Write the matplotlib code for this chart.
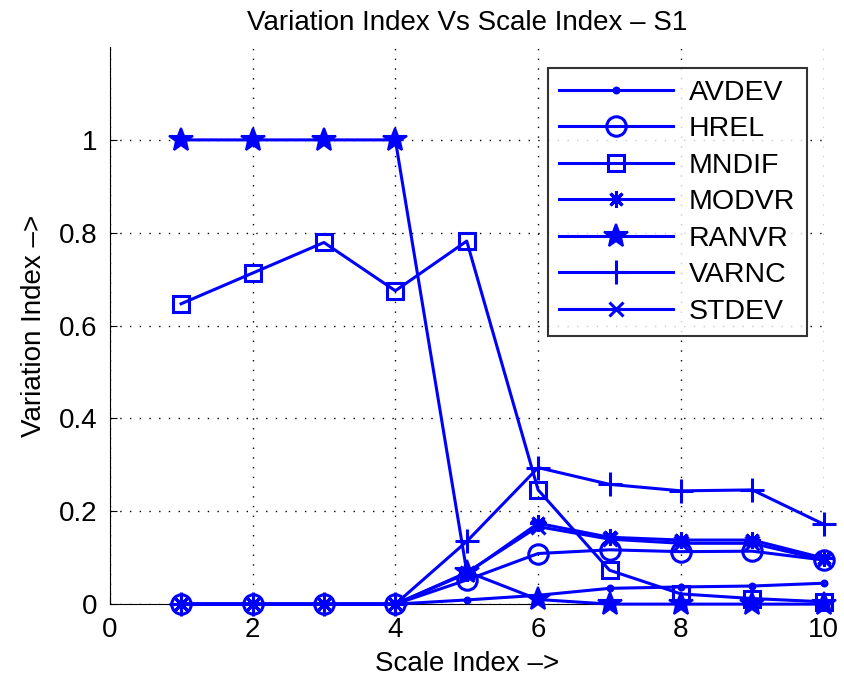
import matplotlib
matplotlib.use("Agg")
import matplotlib.pyplot as plt

plt.rcParams['font.family'] = ['Liberation Sans', 'DejaVu Sans']

x = [1, 2, 3, 4, 5, 6, 7, 8, 9, 10]
avdev = [0, 0, 0, 0, 0.009, 0.019, 0.034, 0.037, 0.039, 0.045]
hrel = [0, 0, 0, 0, 0.052, 0.109, 0.117, 0.113, 0.114, 0.095]
mndif = [0.647, 0.713, 0.779, 0.675, 0.782, 0.246, 0.073, 0.022, 0.012, 0.005]
modvr = [0, 0, 0, 0, 0.066, 0.174, 0.144, 0.138, 0.138, 0.099]
ranvr = [1, 1, 1, 1, 0.07, 0.01, 0, 0, 0, 0]
varnc = [0, 0, 0, 0, 0.135, 0.294, 0.258, 0.244, 0.246, 0.172]
stdev = [0, 0, 0, 0, 0.068, 0.167, 0.140, 0.131, 0.131, 0.095]

names = ["AVDEV", "HREL", "MNDIF", "MODVR", "RANVR", "VARNC", "STDEV"]
values = [avdev, hrel, mndif, modvr, ranvr, varnc, stdev]
markers = [".", "o", "s", (8, 2, 0), "*", "+", "x"]
sizes = [7, 14, 12, 12, 18, 17, 10]

fig = plt.figure(figsize=(8.44, 6.92), dpi=100)
ax = fig.add_axes([0.130, 0.127, 0.846, 0.805])

for name, vals, m, ms in zip(names, values, markers, sizes):
    if name == "RANVR":
        ax.plot(x, vals, color="#0000ff", lw=2.2, marker=m, ms=ms,
                markerfacecolor="#0000ff", markeredgewidth=1.5, label=name,
                clip_on=False, zorder=3)
    else:
        ax.plot(x, vals, color="#0000ff", lw=2.2, marker=m, ms=ms,
                markerfacecolor="none", markeredgewidth=2.2, label=name,
                clip_on=False, zorder=3)

ax.set_xlim(0, 10)
ax.set_ylim(0, 1.2)
ax.set_xticks([0, 2, 4, 6, 8, 10])
ax.set_yticks([0, 0.2, 0.4, 0.6, 0.8, 1])
ax.set_yticklabels(["0", "0.2", "0.4", "0.6", "0.8", "1"])
ax.grid(True, color="black", linestyle=(0, (1, 6)), linewidth=1.0)
ax.spines['top'].set_visible(False)
ax.spines['right'].set_visible(False)
ax.tick_params(axis='both', direction='in', length=5, labelsize=20, pad=9)

ax.set_xlabel("Scale Index –>", fontsize=20, labelpad=6)
ax.set_ylabel("Variation Index –>", fontsize=20, labelpad=8)
ax.set_title("Variation Index Vs Scale Index – S1", fontsize=20, pad=12)

leg = ax.legend(loc="upper right", fontsize=20.5, frameon=True, fancybox=False,
                edgecolor="black", handlelength=4.0, handletextpad=0.55,
                borderpad=0.4, labelspacing=0.37, borderaxespad=0,
                bbox_to_anchor=(0.976, 0.962))
leg.get_frame().set_linewidth(1.5)

fig.savefig("out.png", dpi=100)
